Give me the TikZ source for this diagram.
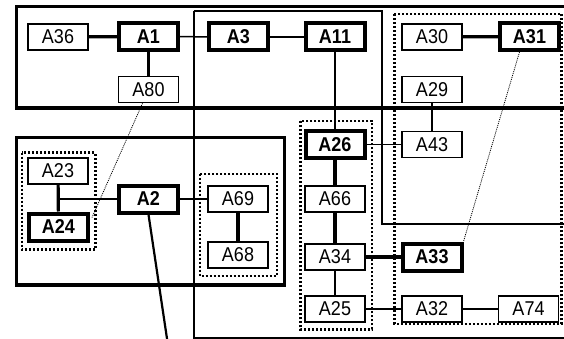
\documentclass[tikz,border=0pt]{standalone}
\usepackage{fontspec}
\setmainfont{Liberation Sans}
\newfontfamily\boxfont[FakeStretch=0.9]{Liberation Sans}
\begin{document}
\begin{tikzpicture}[x=1pt,y=-1pt,
  box/.style={draw,fill=white,line width=1.6pt,minimum width=60pt,minimum height=26pt,inner sep=0pt,font=\boxfont\fontsize{20}{22}\selectfont},
  bbox/.style={draw,fill=white,line width=4pt,minimum width=59pt,minimum height=27pt,inner sep=0pt,font=\boxfont\fontsize{20}{22}\selectfont\bfseries},
  dotbox/.style={line width=2.4pt,dash pattern=on 2pt off 2pt},
  thinc/.style={line width=1.5pt},
  medc/.style={line width=2.2pt},
  thickc/.style={line width=3.2pt},
  dotc/.style={line width=0.8pt,dash pattern=on 1pt off 1pt}]
\useasboundingbox (0,0) rectangle (564,339);
\clip (0,0) rectangle (564,339);
% big frames
\draw[line width=3.4pt] (16.6,6.7) rectangle (580,108);
\draw[line width=2pt] (193.7,11) -- (382,11) -- (382,224.3) -- (580,224.3);
\draw[line width=2pt] (193.7,11) -- (193.7,337.6) -- (580,337.6);
\draw[line width=3.3pt] (16.7,137.7) rectangle (284.3,285);
% dotted groups
\draw[dotbox] (21.7,152.7) rectangle (95.3,249.3);
\draw[dotbox] (200,173.7) rectangle (276.7,276);
\draw[dotbox] (300.3,121) rectangle (372,329.3);
\draw[dotbox] (394.3,14.3) rectangle (561.5,323.7);
% nodes
\node[box]  (A36) at (58,37) {A36};
\node[bbox] (A1)  at (148.5,36.5) {A1};
\node[box]  (A80) at (148.5,89.5) {A80};
\node[bbox] (A3)  at (238.5,37) {A3};
\node[bbox] (A11) at (335,37) {A11};
\node[box]  (A30) at (432,37) {A30};
\node[bbox] (A31) at (529.5,36.5) {A31};
\node[box]  (A29) at (432,89.5) {A29};
\node[box]  (A43) at (432,144.5) {A43};
\node[bbox] (A33) at (432,257) {A33};
\node[box]  (A32) at (432,309) {A32};
\node[box]  (A74) at (528.5,309) {A74};
\node[bbox] (A26) at (335,144.5) {A26};
\node[box]  (A66) at (335,199) {A66};
\node[box]  (A34) at (335,257) {A34};
\node[box]  (A25) at (335,309) {A25};
\node[box]  (A69) at (238,199) {A69};
\node[box]  (A68) at (238,255) {A68};
\node[box]  (A23) at (58,171) {A23};
\node[bbox] (A24) at (58.5,227) {A24};
\node[bbox] (A2)  at (148.5,199) {A2};
\coordinate (j) at (58,199);
\coordinate (e) at (167.5,342);
% connectors
\draw[thickc] (A36) -- (A1);
\draw[thinc] (A1) -- (A3);
\draw[thinc] (A3) -- (A11);
\draw[medc] (A1) -- (A80);
\draw[medc] (A11) -- (A26);
\draw[thickc] (A30) -- (A31);
\draw[medc] (A29) -- (A43);
\draw[thinc] (A26) -- (A43);
\draw[thickc] (A26) -- (A66);
\draw[thickc] (A66) -- (A34);
\draw[thinc] (A34) -- (A25);
\draw[thickc] (A34) -- (A33);
\draw[thinc] (A25) -- (A32);
\draw[medc] (A32) -- (A74);
\draw[thickc] (A69) -- (A68);
\draw[medc] (A2) -- (A69);
\draw[thickc] (A23) -- (A24);
\draw[thinc] (j) -- (A2);
\draw[medc] (A2.south) -- (e);
\draw[dotc] ([xshift=-6pt]A80.south) -- ([shift={(2,6)}]A24.north east);
\draw[dotc] ([xshift=-10pt]A31.south) -- (A33.north east);
\end{tikzpicture}
\end{document}
